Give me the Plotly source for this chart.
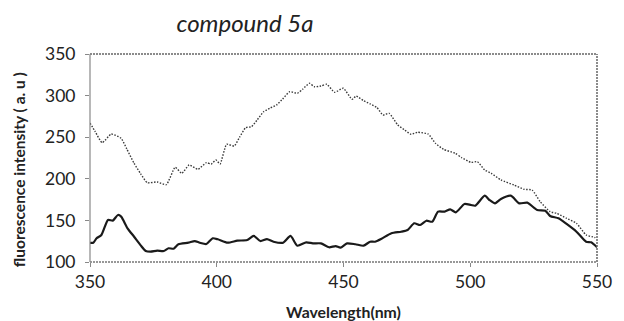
import plotly.graph_objects as go

# Dotted curve (upper)
wl_dot = [350, 352, 354.8, 358.4, 362.3, 364.5, 367.4, 370, 372.6, 376.5, 380.1, 383.6, 386.2, 389.1,
          392.6, 395.9, 397.8, 399.7, 401.3, 403.9, 406.9, 409, 411.4, 413.7, 416, 418.5, 421, 423.6,
          426, 428.8, 431.8, 434, 436.6, 438.5, 441.1, 443.4, 446.5, 449.9, 453.4, 455, 457.9, 460.5,
          463.1, 465.6, 468, 471.4, 474, 476.6, 479.2, 483.4, 486.3, 489.5, 494.1, 496.6, 500.3,
          502.8, 505.7, 508.3, 512.1, 517.3, 521.2, 524.4, 527.6, 531.5, 534.1, 538, 541.9, 545.7,
          549, 550]
int_dot = [267, 257, 243.4, 253.8, 248.6, 236, 218.6, 206, 195.3, 196.2, 192.9, 213.8, 206.6, 216.6,
           211.4, 219.4, 217.8, 222.6, 217.8, 241.5, 239.4, 250, 261.4, 262.6, 271, 280.7, 285, 288.7,
           296, 304.7, 302.8, 308, 314.8, 310.7, 311.5, 313.6, 304, 308.8, 295.6, 299.5, 293.9, 290,
           285.9, 276.7, 278.7, 264.7, 259, 253.5, 255.9, 253.8, 242.6, 235.4, 230.6, 225.4, 219.8,
           220.6, 210.6, 206.6, 198.6, 192.5, 187.4, 186.5, 172.5, 160.5, 158.5, 152.5, 146.5, 132.5,
           129.7, 128]

# Solid curve (lower)
wl_sol = [350, 351.3, 352.6, 354.5, 357.1, 359, 361, 362.3, 364.8, 367.4, 370, 372, 373.9, 376.5,
          379.1, 381, 383, 384.9, 388.8, 391.3, 393.3, 395.9, 398.4, 400.4, 404.3, 408.1, 412,
          414.6, 417.2, 419.8, 422.4, 426.2, 429.1, 431.8, 435.3, 437.9, 441.1, 444.3, 446.9, 448.8,
          451.4, 454.7, 457.9, 460.5, 462.4, 465, 468.9, 472.7, 475.3, 477.9, 480.2, 482.7, 485,
          487.3, 489.9, 492.1, 494.3, 497.7, 500.3, 502, 505.7, 507.6, 509.8, 512.1, 516, 519.3,
          522.5, 526.4, 529.6, 531.5, 534.8, 538, 541.9, 545.7, 547.7, 550]
int_sol = [123, 123.2, 128.5, 132.5, 150.5, 149.7, 156.5, 154.5, 140.5, 130.4, 120, 113.2, 112.4, 113.6,
           113.2, 116.5, 116, 121.3, 123.2, 125.2, 123.2, 121.6, 128.5, 127.3, 123.2, 125.6, 126.4,
           131.3, 125.2, 127.6, 124.4, 123.2, 131.3, 119.6, 123.6, 122.4, 122.4, 117.7, 119.2, 117.2,
           122.4, 121.3, 119.6, 124.4, 124.4, 128, 134.5, 136.4, 138.5, 146.5, 144.5, 149.6, 148.4,
           160.5, 160.5, 163.3, 159.7, 169.7, 168.5, 167.7, 179.7, 174.5, 170.5, 175.7, 179.7, 170.5,
           171.3, 162.5, 161.7, 155.3, 152.5, 145.7, 136.4, 124.4, 123.6, 117.7]

x_ticks = [350, 400, 450, 500, 550]
y_ticks = [100, 150, 200, 250, 300, 350]

FONT = "Lato"

fig = go.Figure()
fig.add_trace(go.Scatter(x=wl_dot, y=int_dot, mode="lines",
                         line=dict(color="#3a3a3a", width=1.4, dash="1.5px,1.5px", shape="spline", smoothing=0.5),
                         showlegend=False, hoverinfo="skip"))
fig.add_trace(go.Scatter(x=wl_sol, y=int_sol, mode="lines",
                         line=dict(color="#1a1a1a", width=2.2, shape="spline", smoothing=0.6),
                         showlegend=False, hoverinfo="skip"))

fig.update_layout(
    width=624, height=321,
    margin=dict(l=90, r=18, t=54, b=59),
    paper_bgcolor="white", plot_bgcolor="white",
    font=dict(family=FONT, color="#222222"),
    title=dict(text="<i>compound 5a</i>", x=245 / 624, xanchor="center",
               y=1 - 24 / 321, yanchor="middle", yref="container",
               font=dict(family=FONT, size=24, color="#222222")),
    xaxis=dict(range=[350, 550], tickvals=x_ticks, ticks="outside", ticklen=4,
               tickcolor="#888888", showgrid=False, zeroline=False, showline=False,
               tickfont=dict(family=FONT, size=17.5, color="#222222")),
    yaxis=dict(range=[100, 350], tickvals=y_ticks, ticks="outside", ticklen=4,
               tickcolor="#888888", showgrid=False, zeroline=False, showline=False,
               tickfont=dict(family=FONT, size=17.5, color="#222222"), ticklabelstandoff=6),
    annotations=[
        dict(text="<b>fluorescence intensity ( a. u )</b>", xref="paper", yref="paper",
             x=(18 - 90) / 516, y=(262 - 170) / 208, xanchor="center", yanchor="middle", textangle=-90,
             showarrow=False, font=dict(family=FONT, size=15.5, color="#222222")),
        dict(text="<b>Wavelength(nm)</b>", xref="paper", yref="paper",
             x=0.5, y=(262 - 311) / 208, xanchor="center", yanchor="middle",
             showarrow=False, font=dict(family=FONT, size=15.8, color="#222222")),
    ],
    shapes=[
        dict(type="line", xref="paper", yref="paper", x0=0, x1=1, y0=1, y1=1,
             line=dict(color="#666666", width=1.5, dash="2px,1px")),
        dict(type="line", xref="paper", yref="paper", x0=1, x1=1, y0=0, y1=1,
             line=dict(color="#666666", width=1.5, dash="2px,1px")),
        dict(type="line", xref="paper", yref="paper", x0=0, x1=1, y0=0, y1=0,
             line=dict(color="#777777", width=1.5, dash="2px,1px")),
        dict(type="line", xref="paper", yref="paper", x0=0, x1=0, y0=0, y1=1,
             line=dict(color="#888888", width=1.2)),
    ],
)

fig.write_html("out.html")
